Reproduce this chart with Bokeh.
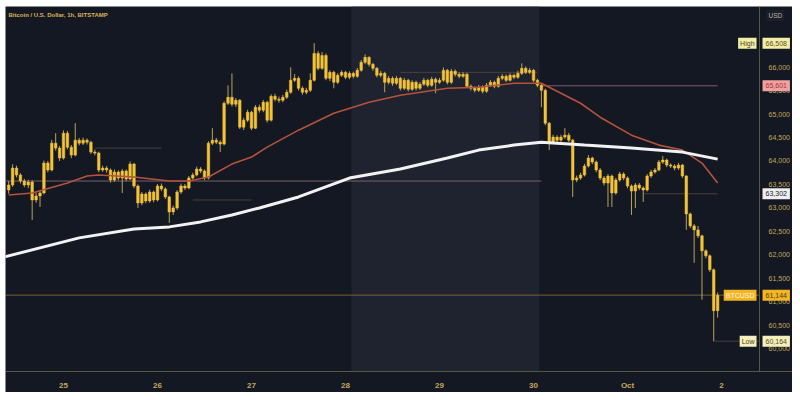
import pandas as pd
from bokeh.plotting import figure
from bokeh.models import Range1d, BoxAnnotation, Label, FixedTicker, NumeralTickFormatter
from bokeh.embed import file_html
from bokeh.resources import INLINE


def ms(s):
    return int(pd.Timestamp(s).value // 10**6)


# ---------------- data (BTC/USD, 1h, Bitstamp) ----------------
first_time = "2024-09-24 10:00"
first_open = 63382
closes = [
    63489, 63849, 63701, 63573, 63489, 63552, 63170, 63255, 63319, 63956,
    63807, 64380, 64274, 64062, 64592, 64295, 64125, 64444, 64380, 64444,
    64401, 64189, 64168, 63807, 63849, 63807, 63595, 63765, 63637, 63786,
    63616, 63934, 63467, 63106, 63297, 63149, 63340, 63170, 63467, 63404,
    63234, 62915, 63000, 63340, 63467, 63425, 63637, 63701, 63828, 63786,
    63637, 64380, 64444, 64401, 64359, 65229, 65357, 65208, 65293, 64720,
    64868, 65038, 64699, 65144, 65081, 65251, 64868, 65378, 65314, 65293,
    65357, 65463, 65718, 65760, 65548, 65463, 65505, 65718, 66291, 65972,
    66248, 65760, 65887, 65675, 65824, 65887, 65781, 65866, 65802, 65930,
    66100, 66206, 66057, 65972, 65824, 65866, 65675, 65760, 65654, 65760,
    65548, 65718, 65527, 65675, 65548, 65633, 65718, 65611, 65739, 65675,
    65718, 65930, 65675, 65909, 65845, 65802, 65845, 65590, 65548, 65505,
    65569, 65484, 65611, 65675, 65590, 65760, 65802, 65718, 65824, 65781,
    65866, 65972, 65887, 65930, 65718, 65611, 65505, 64805, 64401, 64508,
    64444, 64508, 64550, 64444, 63595, 63637, 63701, 63892, 64062, 63977,
    63807, 63637, 63531, 63680, 63319, 63595, 63722, 63637, 63467, 63361,
    63489, 63425, 63382, 63680, 63765, 63807, 63977, 64019, 63913, 63892,
    63849, 63913, 63680, 62873, 62618, 62533, 62406, 62087, 61981, 61684,
    60813, 61144,
]
highs = [
    63570, 63930, 63900, 63740, 63620, 63600, 63590, 63330, 63380, 64010,
    64000, 64450, 64592, 64320, 64650, 64640, 64340, 64805, 64490, 64500,
    64480, 64430, 64240, 64200, 63900, 63890, 63840, 63820, 63800, 63830,
    63820, 63990, 63960, 63500, 63340, 63330, 63390, 63370, 63510, 63520,
    63440, 63260, 63050, 63380, 63520, 63510, 63680, 63750, 63880, 63870,
    63820, 64420, 64699, 64490, 64440, 65270, 65611, 65866, 65340, 65320,
    64920, 65090, 65070, 65190, 65200, 65300, 65280, 65420, 65430, 65370,
    65410, 65520, 65994, 65850, 65800, 65590, 65560, 65866, 66508, 66340,
    66320, 66290, 65930, 65920, 65870, 65930, 65920, 65910, 65900, 65980,
    66150, 66270, 66230, 66090, 66000, 65920, 65900, 65810, 65800, 65810,
    65790, 65770, 65750, 65720, 65710, 65680, 65770, 65750, 65790, 65780,
    65770, 65990, 65960, 65960, 65950, 65890, 65890, 65880, 65630, 65590,
    65620, 65610, 65660, 65720, 65710, 65810, 65850, 65840, 65870, 65860,
    65920, 66079, 66010, 65980, 65960, 65750, 65640, 65540, 64830, 64560,
    64550, 64560, 64699, 64600, 64470, 63690, 63750, 63940, 64125, 64090,
    64010, 63850, 63680, 63720, 63710, 63640, 63770, 63760, 63670, 63500,
    63530, 63530, 63460, 63720, 63810, 63850, 64020, 64104, 64050, 63950,
    63930, 63960, 63940, 63700, 62900, 62660, 62618, 62430, 62120, 62010,
    61710, 61200,
]
lows = [
    63300, 63450, 63650, 63520, 63440, 63420, 62745, 63110, 63021, 63290,
    63760, 63780, 64220, 64000, 64030, 64250, 64060, 64100, 64330, 64340,
    64350, 64150, 64120, 63760, 63770, 63750, 63540, 63560, 63590, 63319,
    63570, 63590, 63420, 63000, 63060, 63100, 63110, 63120, 63140, 63360,
    63190, 62682, 62850, 62960, 63300, 63380, 63400, 63600, 63670, 63740,
    63590, 63610, 64340, 64360, 64189, 64330, 65190, 65160, 65150, 64680,
    64660, 64830, 64656, 64680, 65030, 65040, 64820, 64840, 65270, 65240,
    65250, 65320, 65430, 65680, 65500, 65410, 65420, 65470, 65690, 65930,
    65940, 65720, 65700, 65548, 65640, 65790, 65740, 65740, 65760, 65770,
    65900, 66060, 66010, 65920, 65780, 65780, 65463, 65630, 65600, 65620,
    65500, 65510, 65480, 65490, 65500, 65510, 65600, 65570, 65580, 65442,
    65640, 65690, 65630, 65640, 65800, 65760, 65770, 65550, 65500, 65460,
    65470, 65440, 65450, 65580, 65550, 65560, 65720, 65680, 65690, 65740,
    65750, 65830, 65850, 65850, 65680, 65570, 65144, 64760, 64232, 64370,
    64400, 64410, 64470, 64400, 63234, 63550, 63600, 63670, 63860, 63930,
    63760, 63590, 63480, 63021, 63021, 63280, 63560, 63590, 63420, 62851,
    63000, 63380, 63128, 63350, 63640, 63730, 63780, 63940, 63870, 63850,
    63800, 63810, 63640, 62533, 62570, 61832, 62360, 61047, 61930, 61640,
    60164, 60665,
]

# 50-period MA (red) and 200-period MA (white)
ma50_times = ["2024-09-24 10:00", "2024-09-24 16:00", "2024-09-25 01:00", "2024-09-25 06:00",
              "2024-09-25 09:00", "2024-09-25 18:00", "2024-09-26 03:00", "2024-09-26 08:00",
              "2024-09-26 13:00", "2024-09-26 19:00", "2024-09-27 00:00", "2024-09-27 04:00",
              "2024-09-27 12:00", "2024-09-27 21:00", "2024-09-28 06:00", "2024-09-28 14:00",
              "2024-09-29 02:00", "2024-09-29 10:00", "2024-09-29 19:00", "2024-09-30 02:00",
              "2024-09-30 04:00", "2024-09-30 08:00", "2024-09-30 12:00", "2024-09-30 17:00",
              "2024-10-01 01:00", "2024-10-01 08:00", "2024-10-01 14:00", "2024-10-01 19:00",
              "2024-10-01 23:00"]
ma50_vals = [63276, 63319, 63531, 63680, 63701, 63658, 63573, 63573, 63658, 63934,
             64083, 64295, 64656, 65017, 65251, 65399, 65548, 65569, 65654, 65654,
             65569, 65399, 65229, 64932, 64550, 64338, 64232, 63956, 63531]
ma200_times = ["2024-09-24 09:00", "2024-09-25 04:00", "2024-09-25 18:00", "2024-09-26 03:00",
               "2024-09-26 11:00", "2024-09-26 19:00", "2024-09-27 02:00", "2024-09-27 12:00",
               "2024-09-28 01:00", "2024-09-28 14:00", "2024-09-29 02:00", "2024-09-29 10:00",
               "2024-09-29 19:00", "2024-09-30 02:00", "2024-09-30 13:00", "2024-10-01 01:00",
               "2024-10-01 14:00", "2024-10-01 23:00"]
ma200_vals = [61960, 62363, 62554, 62597, 62703, 62851, 63000, 63234, 63637, 63828,
              64062, 64232, 64338, 64401, 64338, 64274, 64189, 64040]

# horizontal level lines
mauve_levels = [63573, 65601]
mauve_start = ["2024-09-24 08:00", "2024-09-30 02:00"]
mauve_end = ["2024-09-30 02:00", "2024-10-01 23:00"]
faint_levels = [64274, 63170, 65887, 63302, 60164]
faint_start = ["2024-09-25 08:00", "2024-09-26 09:00", "2024-09-28 14:00", "2024-10-01 04:00", "2024-10-01 22:00"]
faint_end = ["2024-09-26 01:00", "2024-09-27 00:00", "2024-09-30 01:00", "2024-10-01 23:00", "2024-10-02 09:40"]

last_price = 61144
high_price = 66508
low_price = 60164
red_label_price = 65601
white_label_price = 63302

day_ticks = ["2024-09-25", "2024-09-26", "2024-09-27", "2024-09-28",
             "2024-09-29", "2024-09-30", "2024-10-01", "2024-10-02"]
day_labels = ["25", "26", "27", "28", "29", "30", "Oct", "2"]
y_ticks = [60000, 60500, 61000, 61500, 62000, 62500, 63000, 63500,
           64000, 64500, 65000, 65500, 66000, 66500]

weekend_start = "2024-09-28 01:30"
weekend_end = "2024-09-30 01:30"

# ---------------- styling ----------------
BG = "#141823"
WEEKEND = "#1f2330"
GOLD = "#f3c33a"
WICK = "#b9a357"
AX = "#c4a85c"
AXLINE = "#5a5644"
FONT = "Liberation Sans"
H = 3600000

times = [int(t.value // 10**6) for t in pd.date_range(first_time, periods=len(closes), freq="h")]
opens = [first_open] + closes[:-1]
tops = [max(o, c) for o, c in zip(opens, closes)]
bottoms = [min(o, c) for o, c in zip(opens, closes)]

day0 = ms("2024-09-25")
x_start = day0 - 14.81 * H
x_end = day0 + 186.11 * H
x_scale_edge = day0 + 177.69 * H   # position of the price scale

p = figure(x_axis_type="datetime", y_axis_location="right",
           width=792, height=392,
           min_border_left=5, min_border_top=6, min_border_right=0, min_border_bottom=20,
           x_range=Range1d(x_start, x_end), y_range=Range1d(59518, 67289),
           toolbar_location=None, output_backend="svg",
           background_fill_color=BG, border_fill_color=BG, outline_line_color=None)
p.grid.visible = False

xax = p.xaxis[0]
if "background_fill_color" in xax.properties():
    p.border_fill_color = "white"
    xax.background_fill_color = BG

p.add_layout(BoxAnnotation(left=ms(weekend_start), right=ms(weekend_end),
                           fill_color=WEEKEND, fill_alpha=1.0, line_color=None, level="underlay"))

# level lines
p.segment(x0=[ms(s) for s in faint_start], x1=[ms(s) for s in faint_end],
          y0=faint_levels, y1=faint_levels, line_color="#4a4138", line_width=1)
p.segment(x0=[ms(s) for s in mauve_start], x1=[ms(s) for s in mauve_end],
          y0=mauve_levels, y1=mauve_levels, line_color="#7a5e6a", line_width=1)
p.segment(x0=[x_start], x1=[x_scale_edge], y0=[last_price], y1=[last_price],
          line_color="#75603a", line_width=1)

# candles
p.segment(x0=times, x1=times, y0=highs, y1=lows, line_color=WICK, line_width=1)
p.vbar(x=times, width=0.66 * H, top=tops, bottom=bottoms,
       fill_color=GOLD, line_color=GOLD, line_width=0.5)

# moving averages
p.line([ms(s) for s in ma50_times], ma50_vals, line_color="#b4533a", line_width=1.6)
p.line([ms(s) for s in ma200_times], ma200_vals, line_color="#f2f2f2", line_width=3)

# axes
p.xaxis.ticker = FixedTicker(ticks=[ms(d) for d in day_ticks])
p.xaxis.major_label_overrides = {ms(d): lab for d, lab in zip(day_ticks, day_labels)}
p.xaxis.axis_line_color = AXLINE
p.xaxis.major_tick_line_color = None
p.xaxis.minor_tick_line_color = None
p.xaxis.major_label_text_color = AX
p.xaxis.major_label_text_font = FONT
p.xaxis.major_label_text_font_size = "8px"
p.xaxis.major_label_text_font_style = "bold"
p.xaxis.major_label_standoff = 3

p.yaxis.fixed_location = x_scale_edge
p.yaxis.ticker = FixedTicker(ticks=y_ticks)
p.yaxis.formatter = NumeralTickFormatter(format="0,0")
p.yaxis.axis_line_color = AXLINE
p.yaxis.major_tick_line_color = None
p.yaxis.minor_tick_line_color = None
p.yaxis.major_label_text_color = AX
p.yaxis.major_label_text_font = FONT
p.yaxis.major_label_text_font_size = "7px"
p.yaxis.major_label_standoff = 3

# texts
p.add_layout(Label(x=x_start, y=67098, x_offset=3, text="Bitcoin / U.S. Dollar, 1h, BITSTAMP",
                   text_font=FONT, text_font_size="6px", text_font_style="bold",
                   text_color="#d6b35a", text_baseline="middle"))
p.add_layout(Label(x=x_scale_edge, y=67098, x_offset=7, text="USD", text_font=FONT,
                   text_font_size="6.5px", text_color="#b8b09a", text_baseline="middle",
                   background_fill_color="#1b1f2b", padding=2))


def value_box(price, text, bg, fg):
    p.add_layout(Label(x=x_scale_edge, y=price, x_offset=3, text=text, text_font=FONT,
                       text_font_size="7px", text_color=fg, text_align="left",
                       text_baseline="middle", background_fill_color=bg, padding=3))


def name_box(price, text, bg, fg):
    p.add_layout(Label(x=x_scale_edge, y=price, x_offset=-3, text=text, text_font=FONT,
                       text_font_size="7px", text_color=fg, text_align="right",
                       text_baseline="middle", background_fill_color=bg, padding=2))


name_box(high_price, "High", "#f3eea6", "#4a4020")
value_box(high_price, "66,508", "#f3eea6", "#5a4a20")
value_box(red_label_price, "65,601", "#f0a2a2", "#a83232")
value_box(white_label_price, "63,302", "#eeeeee", "#1a2030")
name_box(last_price, "BTCUSD", "#f2b526", "#fff4d8")
value_box(last_price, "61,144", "#f2b526", "#5a3c08")
name_box(low_price, "Low", "#f4f0bc", "#4a4020")
value_box(low_price, "60,164", "#f4f0bc", "#5a4a20")

open("out.html", "w").write(file_html(p, INLINE))
